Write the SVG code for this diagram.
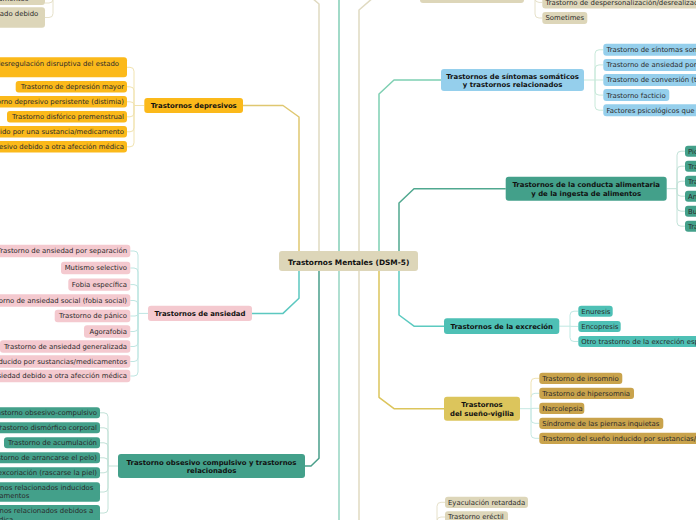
<svg xmlns="http://www.w3.org/2000/svg" width="696" height="520" viewBox="0 0 696 520">
<style>
text{font-family:"DejaVu Sans","Liberation Sans",sans-serif;font-size:6.9px;fill:#2a2a2a}
.b{font-weight:bold;fill:#111}
.e{text-anchor:end}
.m{text-anchor:middle}
.main{fill:none;stroke-width:1.5;stroke-linejoin:round}
.sub{fill:none;stroke-width:1}
.beige{fill:#ddd6b9}
.amber{fill:#fbb91a}
.pink{fill:#f4c9cf}
.dteal{fill:#43a08a}
.blue{fill:#95cfec}
.teal{fill:#4ec0b5}
.yel{fill:#dcc55c}
.ochre{fill:#c9a34c}
</style>
<rect width="696" height="520" fill="#ffffff"/>
<g id="connectors">
  <path class="main" stroke="#dfc770" d="M243 105.5 H283 L299 117 V251"/>
  <path class="main" stroke="#5cc8c0" d="M299 271 V298.3 L283 313.4 H252"/>
  <path class="main" stroke="#4a9f8a" d="M319 271 V458.3 L311 466 H305"/>
  <path class="main" stroke="#e0dac1" d="M319 251 V4 L305 -8 H250"/>
  <path class="main" stroke="#82ceb6" d="M339 251 V-20"/>
  <path class="main" stroke="#96d5c2" d="M339 271 V540"/>
  <path class="main" stroke="#e0dac1" d="M359 251 V10 L374 -3 H420"/>
  <path class="main" stroke="#e0dac1" d="M359 271 V540"/>
  <path class="main" stroke="#7ecfb2" d="M379 251 V94 L394 80 H441"/>
  <path class="main" stroke="#50a88f" d="M399 251 V203 L414 188.7 H505.7"/>
  <path class="main" stroke="#5ccac0" d="M399 271 V315 L414 326.2 H444"/>
  <path class="main" stroke="#dcc55c" d="M379 271 V397.3 L394 408.7 H444"/>
  <path class="sub" stroke="#f1e3b0" d="M144.3 105.5 H134 V71.3 Q134 67.3 130 67.3 H127 M134 105.5 V90.8 Q134 86.8 130 86.8 H127 M134 105.5 V104.8 Q134 101.8 130 101.8 H127 M134 105.5 V112.8 Q134 116.8 130 116.8 H127 M134 105.5 V127.8 Q134 131.8 130 131.8 H127 M134 105.5 V142.8 Q134 146.8 130 146.8 H127"/>
  <path class="sub" stroke="#bfe6e2" d="M148 313.4 H138 V255 Q138 251 134 251 H130.3 M138 313.4 V272 Q138 268 134 268 H130.3 M138 313.4 V288.6 Q138 284.6 134 284.6 H130.3 M138 313.4 V304.5 Q138 300.5 134 300.5 H130.3 M138 313.4 Q138 316 135 316 H130.3 M138 313.4 V327.5 Q138 331.5 134 331.5 H130.3 M138 313.4 V342.5 Q138 346.5 134 346.5 H130.3 M138 313.4 V357.5 Q138 361.5 134 361.5 H130.3 M138 313.4 V372 Q138 376 134 376 H130.3"/>
  <path class="sub" stroke="#c2e2d8" d="M118 466 H108 V416.8 Q108 412.8 104 412.8 H100 M108 466 V431.8 Q108 427.8 104 427.8 H100 M108 466 V446.8 Q108 442.8 104 442.8 H100 M108 466 V461.8 Q108 457.8 104 457.8 H100 M108 466 V468.8 Q108 472.8 104 472.8 H100 M108 466 V488 Q108 492 104 492 H100 M108 466 V509 Q108 513 104 513 H100"/>
  <path class="sub" stroke="#c8e9da" d="M584 80 H595 V53.8 Q595 49.8 599 49.8 H603.3 M595 80 V68.9 Q595 64.9 599 64.9 H603.3 M595 80 H603.3 M595 80 V91.1 Q595 95.1 599 95.1 H603.3 M595 80 V106.2 Q595 110.2 599 110.2 H603.3"/>
  <path class="sub" stroke="#c2e2d8" d="M666.7 188.7 H677 V155.2 Q677 151.2 681 151.2 H685 M677 188.7 V170.2 Q677 166.2 681 166.2 H685 M677 188.7 V185.2 Q677 181.2 681 181.2 H685 M677 188.7 V192.2 Q677 196.2 681 196.2 H685 M677 188.7 V207.2 Q677 211.2 681 211.2 H685 M677 188.7 V222.2 Q677 226.2 681 226.2 H685"/>
  <path class="sub" stroke="#bfe8e3" d="M559.3 326.2 H570 V315.2 Q570 311.2 574 311.2 H578.3 M570 326.2 Q570 326.4 574 326.4 H578.3 M570 326.2 V337.5 Q570 341.5 574 341.5 H578.3"/>
  <path class="sub" stroke="#c6e8e2" d="M520 408.7 H531 M531 408.7 V397.3 Q531 393.3 535 393.3 H539.3 M531 408.7 Q531 408.3 535 408.3 H539.3 M531 408.7 V419.3 Q531 423.3 535 423.3 H539.3 M531 408.7 V434.3 Q531 438.3 535 438.3 H539.3"/>
  <path class="sub" stroke="#efe3b3" d="M531 397.3 V382.3 Q531 378.3 535 378.3 H539.3"/>
  <path class="sub" stroke="#e6e1ca" d="M524 -5 H535 V-1.6 Q535 2.4 539 2.4 H542.3 M535 -5 V14 Q535 18 539 18 H542.3"/>
  <path class="sub" stroke="#e6e1ca" d="M62 -20 H53 V13.5 Q53 17.5 49 17.5 H45 M53 -20 V-1 Q53 3 49 3 H45"/>
  <path class="sub" stroke="#e6e1ca" d="M426 560 H437 V506.3 Q437 502.3 441 502.3 H445 M437 560 V521 Q437 517 441 517 H445"/>
</g>
<g id="center">
  <rect class="beige" x="279" y="251" width="139" height="20" rx="3"/>
  <text class="b m" x="348.7" y="264.9" style="font-size:7.4px">Trastornos Mentales (DSM-5)</text>
</g>
<g id="bipolar-children">
  <rect class="beige" x="-150" y="-16" width="195" height="21" rx="3"/>
  <text class="e" x="38" y="-8">Trastorno bipolar y trastorno relacionado inducido por</text>
  <text class="e" x="28.3" y="1.3">sustancias/medicamentos</text>
  <rect class="beige" x="-150" y="7.3" width="195" height="20.4" rx="3"/>
  <text class="e" x="38.3" y="15.8">Trastorno bipolar y trastorno relacionado debido</text>
  <text class="e" x="-45" y="24.6">a otra afección médica</text>
</g>
<g id="depresivos">
  <rect class="amber" x="144.3" y="98" width="98.7" height="15" rx="3"/>
  <text class="b m" x="193.7" y="108">Trastornos depresivos</text>
</g>
<g id="depresivos-children">
  <rect class="amber" x="-150" y="57.3" width="277" height="20" rx="3"/>
  <text class="e" x="119" y="65.8">Trastorno de desregulación disruptiva del estado</text>
  <text x="-62" y="74.8">de ánimo</text>
  <rect class="amber" x="15.7" y="81" width="111.3" height="11.6" rx="3"/>
  <text class="e" x="124" y="89.2">Trastorno de depresión mayor</text>
  <rect class="amber" x="-150" y="96" width="277" height="11.6" rx="3"/>
  <text class="e" x="124" y="104.2">Trastorno depresivo persistente (distimia)</text>
  <rect class="amber" x="7" y="111" width="120" height="11.6" rx="3"/>
  <text class="e" x="124" y="119.2">Trastorno disfórico premenstrual</text>
  <rect class="amber" x="-150" y="126" width="277" height="11.6" rx="3"/>
  <text class="e" x="124" y="134.2">Trastorno depresivo inducido por una sustancia/medicamento</text>
  <rect class="amber" x="-150" y="141" width="277" height="11.6" rx="3"/>
  <text class="e" x="124" y="149.2">Trastorno depresivo debido a otra afección médica</text>
</g>
<g id="ansiedad">
  <rect class="pink" x="148" y="305.7" width="104" height="15.4" rx="3"/>
  <text class="b m" x="200" y="315.9">Trastornos de ansiedad</text>
</g>
<g id="ansiedad-children">
  <rect class="pink" x="-150" y="244.8" width="280.3" height="12.4" rx="3"/>
  <text class="e" x="127" y="253.4">Trastorno de ansiedad por separación</text>
  <rect class="pink" x="61" y="261.8" width="69.3" height="12.4" rx="3"/>
  <text class="e" x="127" y="270.4">Mutismo selectivo</text>
  <rect class="pink" x="68.3" y="278.4" width="62" height="12.4" rx="3"/>
  <text class="e" x="127" y="287">Fobia específica</text>
  <rect class="pink" x="-150" y="294.3" width="280.3" height="12.4" rx="3"/>
  <text class="e" x="127" y="302.9">Trastorno de ansiedad social (fobia social)</text>
  <rect class="pink" x="54.7" y="309.8" width="75.6" height="12.4" rx="3"/>
  <text class="e" x="127" y="318.4">Trastorno de pánico</text>
  <rect class="pink" x="84" y="325.3" width="46.3" height="12.4" rx="3"/>
  <text class="e" x="127" y="333.9">Agorafobia</text>
  <rect class="pink" x="0" y="340.3" width="130.3" height="12.4" rx="3"/>
  <text class="e" x="127" y="348.9">Trastorno de ansiedad generalizada</text>
  <rect class="pink" x="-150" y="355.3" width="280.3" height="12.4" rx="3"/>
  <text class="e" x="127" y="363.9">Trastorno de ansiedad inducido por sustancias/medicamentos</text>
  <rect class="pink" x="-150" y="369.8" width="280.3" height="12.4" rx="3"/>
  <text class="e" x="127" y="378.4">Trastorno de ansiedad debido a otra afección médica</text>
</g>
<g id="toc">
  <rect class="dteal" x="118" y="454" width="187" height="24" rx="3"/>
  <text class="b m" x="211.5" y="464.8">Trastorno obsesivo compulsivo y trastornos</text>
  <text class="b m" x="211.5" y="472.8">relacionados</text>
</g>
<g id="toc-children">
  <rect class="dteal" x="-150" y="407.3" width="250" height="11" rx="3"/>
  <text class="e" x="97" y="415.2">Trastorno obsesivo-compulsivo</text>
  <rect class="dteal" x="-150" y="422.3" width="250" height="11" rx="3"/>
  <text class="e" x="97" y="430.2">Trastorno dismórfico corporal</text>
  <rect class="dteal" x="4" y="437.3" width="96" height="11" rx="3"/>
  <text class="e" x="97" y="445.2">Trastorno de acumulación</text>
  <rect class="dteal" x="-150" y="452.3" width="250" height="11" rx="3"/>
  <text class="e" x="97" y="460.2">Tricotilomanía (trastorno de arrancarse el pelo)</text>
  <rect class="dteal" x="-150" y="467.3" width="250" height="11" rx="3"/>
  <text class="e" x="97" y="475.2">Trastorno de excoriación (rascarse la piel)</text>
  <rect class="dteal" x="-150" y="482.3" width="250" height="19.4" rx="3"/>
  <text class="e" x="93.3" y="489.7">Trastorno obsesivo-compulsivo y trastornos relacionados inducidos</text>
  <text class="e" x="29.3" y="498.4">por sustancias/medicamentos</text>
  <rect class="dteal" x="-150" y="505" width="250" height="22" rx="3"/>
  <text class="e" x="93.3" y="513.4">Trastorno obsesivo-compulsivo y trastornos relacionados debidos a</text>
  <text class="e" x="13.3" y="522">otra afección médica</text>
</g>
<g id="disociativos">
  <rect class="beige" x="420" y="-14" width="104" height="17" rx="3"/>
</g>
<g id="disociativos-children">
  <rect class="beige" x="542.3" y="-3.6" width="200" height="12" rx="3"/>
  <text x="545.5" y="4.8">Trastorno de despersonalización/desrealización</text>
  <rect class="beige" x="542.3" y="12" width="45" height="12" rx="3"/>
  <text x="545.5" y="20.4">Sometimes</text>
</g>
<g id="somaticos">
  <rect class="blue" x="441" y="69" width="143" height="22" rx="3"/>
  <text class="b m" x="512.5" y="78.8">Trastornos de síntomas somáticos</text>
  <text class="b m" x="512.5" y="86.8">y trastornos relacionados</text>
</g>
<g id="somaticos-children">
  <rect class="blue" x="603.3" y="43.8" width="250" height="12" rx="3"/>
  <text x="606.5" y="52.2">Trastorno de síntomas somáticos</text>
  <rect class="blue" x="603.3" y="58.9" width="250" height="12" rx="3"/>
  <text x="606.5" y="67.3">Trastorno de ansiedad por enfermedad</text>
  <rect class="blue" x="603.3" y="74" width="250" height="12" rx="3"/>
  <text x="606.5" y="82.4">Trastorno de conversión (trastorno de síntomas neurológicos funcionales)</text>
  <rect class="blue" x="603.3" y="89.1" width="66" height="12" rx="3"/>
  <text x="606.5" y="97.5">Trastorno facticio</text>
  <rect class="blue" x="603.3" y="104.2" width="250" height="12" rx="3"/>
  <text x="606.5" y="112.6">Factores psicológicos que influyen en otras afecciones médicas</text>
</g>
<g id="conducta-alimentaria">
  <rect class="dteal" x="505.7" y="176.7" width="161" height="24" rx="3"/>
  <text class="b m" x="586.2" y="186.8">Trastornos de la conducta alimentaria</text>
  <text class="b m" x="586.2" y="195.8">y de la ingesta de alimentos</text>
</g>
<g id="conducta-children">
  <rect class="dteal" x="685" y="145.7" width="60" height="11" rx="3"/>
  <text x="688" y="153.6">Pica</text>
  <rect class="dteal" x="685" y="160.7" width="100" height="11" rx="3"/>
  <text x="688" y="168.6">Trastorno de rumiación</text>
  <rect class="dteal" x="685" y="175.7" width="100" height="11" rx="3"/>
  <text x="688" y="183.6">Trastorno de evitación/restricción de la ingestión de alimentos</text>
  <rect class="dteal" x="685" y="190.7" width="100" height="11" rx="3"/>
  <text x="688" y="198.6">Anorexia nerviosa</text>
  <rect class="dteal" x="685" y="205.7" width="100" height="11" rx="3"/>
  <text x="688" y="213.6">Bulimia nerviosa</text>
  <rect class="dteal" x="685" y="220.7" width="100" height="11" rx="3"/>
  <text x="688" y="228.6">Trastorno de atracones</text>
</g>
<g id="excrecion">
  <rect class="teal" x="444" y="318.3" width="115.3" height="15.7" rx="3"/>
  <text class="b m" x="501.7" y="328.7">Trastornos de la excreción</text>
</g>
<g id="excrecion-children">
  <rect class="teal" x="578.3" y="305.7" width="34.4" height="11" rx="3"/>
  <text x="581.3" y="313.6">Enuresis</text>
  <rect class="teal" x="578.3" y="320.9" width="42.4" height="11" rx="3"/>
  <text x="581.3" y="328.8">Encopresis</text>
  <rect class="teal" x="578.3" y="336" width="200" height="11" rx="3"/>
  <text x="581.3" y="343.9">Otro trastorno de la excreción especificado</text>
</g>
<g id="sueno-vigilia">
  <rect class="yel" x="444" y="396.7" width="76" height="24" rx="3"/>
  <text class="b m" x="482" y="406.8">Trastornos</text>
  <text class="b m" x="482" y="416.1">del sueño-vigilia</text>
</g>
<g id="sueno-children">
  <rect class="ochre" x="539.3" y="372.7" width="83" height="11.3" rx="3"/>
  <text x="542.3" y="380.7">Trastorno de insomnio</text>
  <rect class="ochre" x="539.3" y="387.7" width="94.7" height="11.3" rx="3"/>
  <text x="542.3" y="395.7">Trastorno de hipersomnia</text>
  <rect class="ochre" x="539.3" y="402.7" width="45" height="11.3" rx="3"/>
  <text x="542.3" y="410.7">Narcolepsia</text>
  <rect class="ochre" x="539.3" y="417.7" width="124" height="11.3" rx="3"/>
  <text x="542.3" y="425.7">Síndrome de las piernas inquietas</text>
  <rect class="ochre" x="539.3" y="432.7" width="250" height="11.3" rx="3"/>
  <text x="542.3" y="440.7">Trastorno del sueño inducido por sustancias/medicamentos</text>
</g>
<g id="sexual-children">
  <rect class="beige" x="445" y="496.7" width="83" height="11.3" rx="3"/>
  <text x="448" y="504.7">Eyaculación retardada</text>
  <rect class="beige" x="445" y="511.3" width="63" height="11.3" rx="3"/>
  <text x="448" y="519.4">Trastorno eréctil</text>
</g>
</svg>
